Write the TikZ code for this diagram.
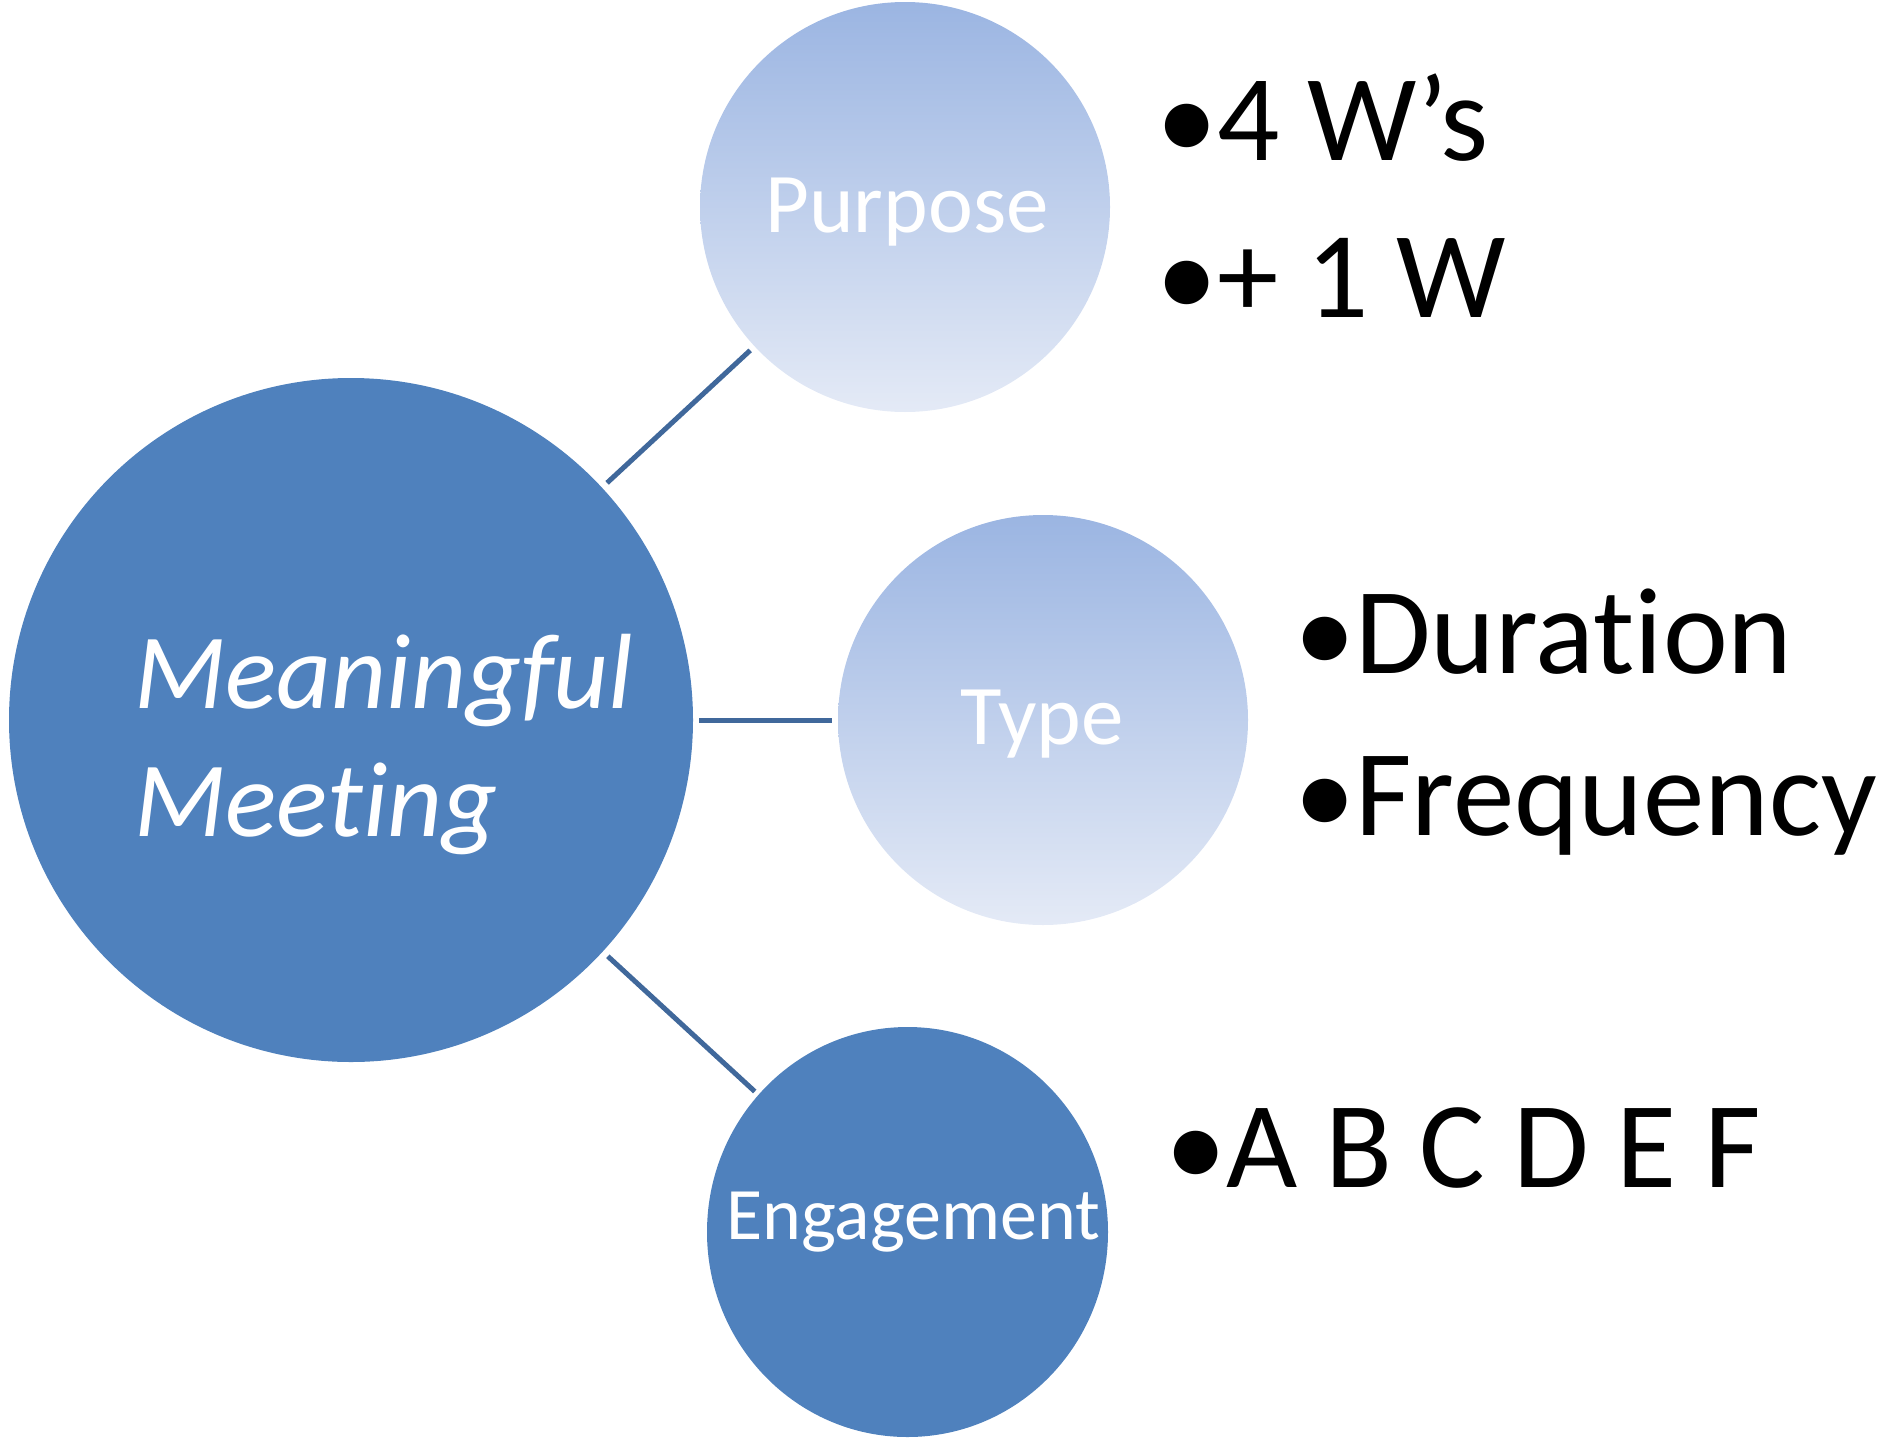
\documentclass[tikz,border=0pt]{standalone}
\usepackage{fontspec}
\setmainfont[Ligatures={NoCommon},RawFeature={-liga;-dlig}]{Carlito}
\usetikzlibrary{shapes.geometric}
\definecolor{mainblue}{HTML}{4F81BD}
\definecolor{linkblue}{HTML}{40689B}
\definecolor{gtop}{HTML}{9BB5E2}
\definecolor{gbot}{HTML}{E4EAF6}
\begin{document}
\begin{tikzpicture}[x=1pt,y=-1pt,
  darkdisc/.style={circle,fill=mainblue,draw=none,inner sep=0pt,outer sep=0pt},
  lightdisc/.style={circle,top color=gtop,bottom color=gbot,draw=none,inner sep=0pt,outer sep=0pt,minimum size=410pt},
  conn/.style={draw=linkblue,line width=5pt},
  disclabel/.style={anchor=base,text=white,inner sep=0pt},
  bullettext/.style={anchor=base west,inner sep=0pt,font=\fontsize{123}{148}\selectfont}
]
\useasboundingbox (0,0) rectangle (1897,1440);
% circles
\node[darkdisc,minimum size=684pt] (main) at (351,720) {};
\node[lightdisc] (purpose) at (905,207) {};
\node[lightdisc] (type) at (1043,720) {};
\node[ellipse,fill=mainblue,draw=none,inner sep=0pt,outer sep=0pt,minimum width=401pt,minimum height=410pt] (engage) at (907.5,1232) {};
% connectors
\draw[conn,shorten <=7pt,shorten >=6pt] (main) -- (purpose);
\draw[conn,shorten <=6pt,shorten >=6pt] (main) -- (type);
\draw[conn,shorten <=7pt,shorten >=5pt] (main) -- (engage);
% labels in circles
\node[anchor=base west,text=white,inner sep=0pt,align=left,font=\itshape\fontsize{107}{128}\selectfont] (maintext) at (134,836) {Meaningful\\Meeting};
\node[disclabel,font=\fontsize{85}{102}\selectfont] (ptext) at (907,232) {Purpose};
\node[disclabel,font=\fontsize{85}{102}\selectfont] (ttext) at (1042,744) {Type};
\node[disclabel,font=\fontsize{74}{89}\selectfont] (etext) at (913,1239) {Engagement};
% bullet texts
\node[bullettext] (p1) at (1156,160) {\makebox[61pt][l]{•}4 W’s};
\node[bullettext] (p2) at (1156,317) {\makebox[61pt][l]{•}+ 1 W};
\node[bullettext] (t1) at (1294,673) {\makebox[61pt][l]{•}Duration};
\node[bullettext] (t2) at (1294,835) {\makebox[61pt][l]{•}Frequency};
\node[bullettext] (e1) at (1165,1187) {\makebox[61pt][l]{•}A B C D E F};
\end{tikzpicture}
\end{document}
